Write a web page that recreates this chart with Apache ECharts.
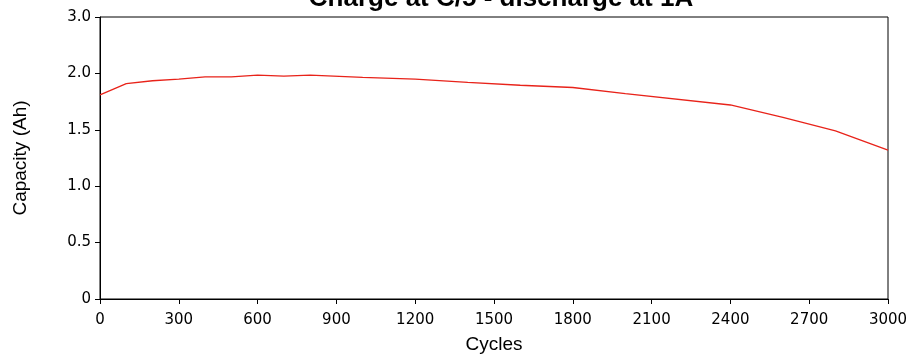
<!DOCTYPE html>
<html>
	<head>
		<meta charset="UTF-8">
		<title></title>
		<script src="https://cdn.jsdelivr.net/npm/echarts@6/dist/echarts.min.js" type="text/javascript" charset="utf-8"></script>
	</head>
	<body style="margin: 0;">
		<div id="chart" style="height: 356px;width: 920px;"></div>
		<script type="text/javascript">
			var cycles = [0, 100, 200, 300, 400, 500, 600, 700, 800, 1000, 1200, 1400, 1600, 1800, 2000, 2400, 2600, 2800, 3000];
			var capacity = [1.81, 1.91, 1.935, 1.95, 1.97, 1.97, 1.985, 1.975, 1.985, 1.965, 1.95, 1.92, 1.895, 1.875, 1.82, 1.72, 1.61, 1.49, 1.32];
			var xTicks = [0, 300, 600, 900, 1200, 1500, 1800, 2100, 2400, 2700, 3000];
			// the top tick of the original is labelled 3.0 although it sits at 2.5
			var yTickLabels = {0: '0', 0.5: '0.5', 1: '1.0', 1.5: '1.5', 2: '2.0', 2.5: '3.0'};

			var lineData = cycles.map((c, i) => [c, capacity[i]]);

			var chart = echarts.init(document.getElementById('chart'));
			var option = {
				animation: false,
				title: {
					text: 'Charge at C/5 - discharge at 1A',
					left: 496,
					textAlign: 'center',
					top: -19,
					textStyle: {fontFamily: 'Liberation Sans', fontSize: 26, fontWeight: 'bold', color: '#000'}
				},
				grid: {
					left: 100, right: 32, top: 17, bottom: 57,
					outerBoundsMode: 'none',
					containLabel: false,
					show: true, borderColor: '#000', borderWidth: 1
				},
				xAxis: {
					type: 'value',
					min: 0, max: 3000, interval: 300,
					name: 'Cycles',
					nameLocation: 'middle',
					nameGap: 36,
					nameTextStyle: {fontFamily: 'Liberation Sans', fontSize: 19, color: '#000'},
					axisLine: {lineStyle: {color: '#000', width: 1}},
					axisTick: {show: true, length: 5, lineStyle: {color: '#000'}},
					axisLabel: {
						margin: 14, fontFamily: 'DejaVu Sans', fontSize: 15, color: '#000',
						customValues: xTicks,
						formatter: function (v) { return String(v); }
					},
					splitLine: {show: false}
				},
				yAxis: {
					type: 'value',
					min: 0, max: 2.5, interval: 0.5,
					name: 'Capacity (Ah)',
					nameLocation: 'middle',
					nameGap: 70,
					nameTextStyle: {fontFamily: 'Liberation Sans', fontSize: 19, color: '#000'},
					axisLine: {show: true, lineStyle: {color: '#000', width: 1}},
					axisTick: {show: true, length: 5, lineStyle: {color: '#000'}},
					axisLabel: {
						margin: 9,
						fontFamily: 'DejaVu Sans',
						fontSize: 15,
						color: '#000',
						formatter: function (v) {
							return yTickLabels[v] !== undefined ? yTickLabels[v] : v.toFixed(1);
						}
					},
					splitLine: {show: false}
				},
				series: [
					{
						type: 'line',
						data: lineData,
						showSymbol: false,
						lineStyle: {color: '#e8231a', width: 1.3},
						itemStyle: {color: '#e8231a'}
					}
				]
			};
			chart.setOption(option, true);
		</script>
	</body>
</html>
